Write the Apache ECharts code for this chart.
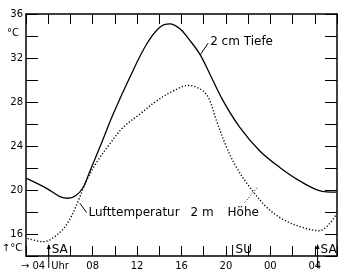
<!DOCTYPE html>
<html><head><meta charset="utf-8">
<script src="https://cdn.jsdelivr.net/npm/echarts@6/dist/echarts.min.js"></script>
<style>html,body{margin:0;padding:0;background:#fff}#c{width:340px;height:277px}</style>
</head><body><div id="c"></div>
<script>
// hours since 00:00 of day 1 (24 = 00 Uhr, 28 = 04 Uhr next day)
const soilHours = [2.05, 3.85, 5.05, 5.8, 6.5, 7.15, 7.75, 8.65, 9.85, 11.35, 12.85, 14.05, 14.95, 15.85, 16.75, 17.65, 18.55, 19.75, 21.25, 23.05, 24.85, 26.6, 28.4, 29.95];
const soilTemp  = [21.05, 20.15, 19.4, 19.25, 19.5, 20.25, 21.7, 23.9, 26.9, 30.25, 33.25, 34.8, 35.1, 34.65, 33.6, 32.35, 30.55, 28.1, 25.7, 23.55, 22.05, 20.85, 19.95, 19.8];
const airHours  = [2.15, 3.55, 5.05, 5.95, 6.7, 7.45, 8.35, 9.55, 10.75, 12.25, 13.75, 15.25, 16.6, 17.65, 18.4, 19.15, 20.05, 20.95, 22.15, 23.65, 25.1, 26.9, 28.4, 29.3, 29.95];
const airTemp   = [15.6, 15.3, 16.15, 17.35, 19.0, 20.85, 22.5, 24.2, 25.7, 26.9, 28.1, 29.0, 29.5, 29.2, 28.45, 26.3, 23.9, 22.05, 20.25, 18.45, 17.35, 16.6, 16.3, 16.9, 17.8];
const xTickLabels = {8: '08', 12: '12', 16: '16', 20: '20', 24: '00', 28: '04'};
const yTickLabels = [16, 20, 24, 28, 32, 36];
const sunEvents = [{name: 'SA', h: 4.05, arrow: true}, {name: 'SU', h: 20.6, arrow: false}, {name: 'SA', h: 28.25, arrow: true}];

const FONT = '"DejaVu Sans", sans-serif';
const chart = echarts.init(document.getElementById('c'), null, {renderer: 'canvas'});
const axisLine = {show: true, onZero: false, lineStyle: {color: '#000', width: 1.5}};
const baseX = {type: 'value', min: 2, max: 30, interval: 2, axisLine, splitLine: {show: false}};
const baseY = {type: 'value', min: 14, max: 36, interval: 2, axisLine, splitLine: {show: false}};
chart.setOption({
  animation: false,
  backgroundColor: '#fff',
  grid: {left: 26, right: 3, top: 14, bottom: 21},
  xAxis: [
    Object.assign({}, baseX, {position: 'bottom',
      axisTick: {inside: true, length: 10, lineStyle: {color: '#000', width: 1}},
      axisLabel: {margin: 5, fontSize: 10, fontFamily: FONT, color: '#000',
        formatter: v => xTickLabels[v] || ''}}),
    Object.assign({}, baseX, {position: 'top',
      axisTick: {inside: true, length: 10, lineStyle: {color: '#000', width: 1}},
      axisLabel: {show: false}})
  ],
  yAxis: [
    Object.assign({}, baseY, {position: 'left',
      axisTick: {inside: true, length: 12, lineStyle: {color: '#000', width: 1}},
      axisLabel: {margin: 3, fontSize: 10, fontFamily: FONT, color: '#000',
        formatter: v => yTickLabels.includes(v) ? String(v) : ''}}),
    Object.assign({}, baseY, {position: 'right',
      axisTick: {inside: true, length: 12, lineStyle: {color: '#000', width: 1}},
      axisLabel: {show: false}})
  ],
  series: [
    {name: '2 cm Tiefe', type: 'line', smooth: 0.35, symbol: 'none',
      data: soilHours.map((h, i) => [h, soilTemp[i]]),
      lineStyle: {color: '#000', width: 1.3}},
    {name: 'Lufttemperatur 2 m Höhe', type: 'line', smooth: 0.35, symbol: 'none',
      data: airHours.map((h, i) => [h, airTemp[i]]),
      lineStyle: {color: '#000', width: 1.4, type: [1.2, 2]}}
  ]
});

const P = (x, y) => chart.convertToPixel({xAxisIndex: 0, yAxisIndex: 0}, [x, y]);
const bottomY = P(2, 14)[1];
const leftX = P(2, 14)[0];
const txt = (x, y, s, opt) => ({type: 'text', x, y, style: Object.assign({text: s, fill: '#000', font: '11px ' + FONT, textVerticalAlign: 'middle'}, opt || {})});
const ln = (a, b, dash) => ({type: 'line', shape: {x1: a[0], y1: a[1], x2: b[0], y2: b[1]}, style: {stroke: '#000', lineWidth: 1, lineDash: dash || null}});
const g = [];
// Soil label
const t1a = P(17.7, 32.3), t1b = P(18.4, 33.35);
g.push(ln(t1a, t1b));
g.push(txt(t1b[0] + 2, t1b[1] - 1, '2 cm Tiefe', {font: '12px ' + FONT}));
// Air label
const a1 = P(6.85, 18.8), a2 = P(7.45, 17.95);
g.push(ln(a1, a2));
g.push(txt(a2[0] + 2, a2[1] + 0.5, 'Lufttemperatur', {font: '12px ' + FONT}));
g.push(txt(a2[0] + 104, a2[1] + 0.5, '2 m', {font: '12px ' + FONT}));
g.push(txt(a2[0] + 141, a2[1] + 0.5, 'Höhe', {font: '12px ' + FONT}));
const b1 = P(22.8, 20.2), b2 = P(21.6, 18.75);
g.push(ln(b1, b2, [1, 2]));
// units
const top36 = P(2, 36)[1];
g.push(txt(leftX - 13, top36 + 19, '°C', {font: '10px ' + FONT, textAlign: 'center'}));
g.push(txt(12, bottomY - 8, '↑°C', {font: '10px ' + FONT, textAlign: 'center'}));
// first hour label with Uhr
const x04 = P(4, 14)[0];
g.push(txt(x04 - 3, bottomY + 10, '→ 04', {font: '10px ' + FONT, textAlign: 'right'}));
g.push(txt(x04 + 3, bottomY + 10, 'Uhr', {font: '10px ' + FONT, textAlign: 'left'}));
// sunrise/sunset markers
sunEvents.forEach(e => {
  const x = P(e.h, 14)[0];
  if (e.arrow) {
    g.push(ln([x, bottomY - 11], [x, bottomY + 12]));
    g.push({type: 'polygon', shape: {points: [[x, bottomY - 12], [x - 2, bottomY - 7], [x + 2, bottomY - 7]]}, style: {fill: '#000'}});
  } else {
    g.push(ln([x, bottomY - 11], [x, bottomY]));
  }
  g.push(txt(x + 3, bottomY - 6, e.name, {font: '12px ' + FONT, textAlign: 'left'}));
});
chart.setOption({graphic: g});
</script></body></html>
